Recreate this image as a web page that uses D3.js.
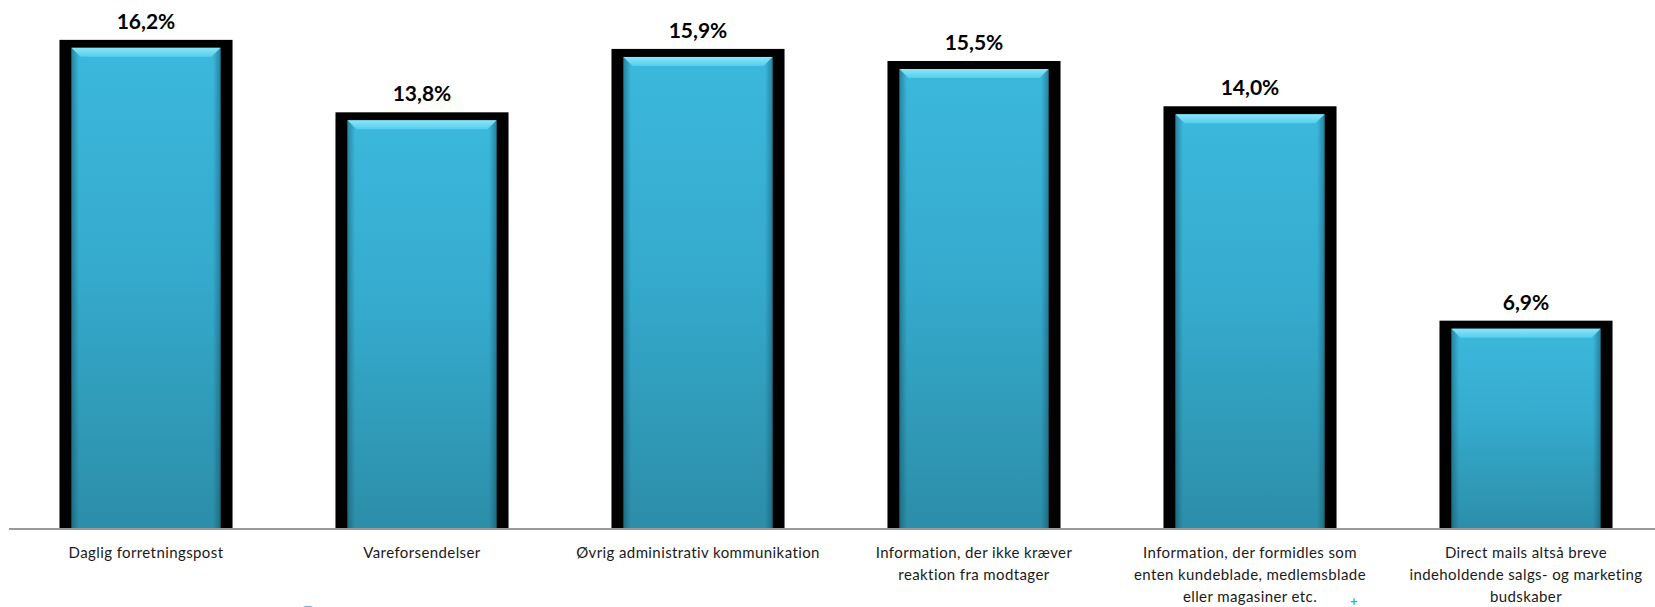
<!DOCTYPE html>
<html>
<head>
<meta charset="utf-8">
<script src="https://cdn.jsdelivr.net/npm/d3@7"></script>
<style>
  html, body { margin: 0; padding: 0; background: #fff; }
  svg { display: block; }
</style>
</head>
<body>
<svg id="chart" width="1655" height="607"></svg>
<script>
const categories = [
  "Daglig forretningspost",
  "Vareforsendelser",
  "Øvrig administrativ kommunikation",
  "Information, der ikke kræver\nreaktion fra modtager",
  "Information, der formidles som\nenten kundeblade, medlemsblade\neller magasiner etc.",
  "Direct mails altså breve\nindeholdende salgs- og marketing\nbudskaber"
];
const values = [16.2, 13.8, 15.9, 15.5, 14.0, 6.9];
const valueLabels = ["16,2%", "13,8%", "15,9%", "15,5%", "14,0%", "6,9%"];

const W = 1655, H = 607;
const baseY = 529;
const svg = d3.select("#chart");

const x = d3.scaleBand()
  .domain(categories)
  .range([8, 1664])
  .paddingInner(0.373)
  .paddingOuter(0.1865);

const y = d3.scaleLinear()
  .domain([0, 17.52])
  .range([baseY, 0]);

const defs = svg.append("defs");
const gv = defs.append("linearGradient").attr("id", "body").attr("x1", 0).attr("y1", 0).attr("x2", 0).attr("y2", 1);
gv.append("stop").attr("offset", "0%").attr("stop-color", "#3ec0e5");
gv.append("stop").attr("offset", "45%").attr("stop-color", "#38b2d6");
gv.append("stop").attr("offset", "100%").attr("stop-color", "#2e93ae");

const gh = defs.append("linearGradient").attr("id", "edge").attr("x1", 0).attr("y1", 0).attr("x2", 1).attr("y2", 0);
gh.append("stop").attr("offset", "0%").attr("stop-color", "#0a3a4a").attr("stop-opacity", 0.45);
gh.append("stop").attr("offset", "5%").attr("stop-color", "#0a3a4a").attr("stop-opacity", 0.06);
gh.append("stop").attr("offset", "95%").attr("stop-color", "#0a3a4a").attr("stop-opacity", 0.06);
gh.append("stop").attr("offset", "100%").attr("stop-color", "#0a3a4a").attr("stop-opacity", 0.45);

const gt = defs.append("linearGradient").attr("id", "bevel").attr("x1", 0).attr("y1", 0).attr("x2", 0).attr("y2", 1);
gt.append("stop").attr("offset", "0%").attr("stop-color", "#8ae6f8");
gt.append("stop").attr("offset", "100%").attr("stop-color", "#55cdee");

const bars = svg.append("g").selectAll("g.bar")
  .data(categories.map((c, i) => ({ c, v: values[i], lab: valueLabels[i] })))
  .join("g").attr("class", "bar");

const sideB = 12, topB = 8, bev = 9;

bars.append("rect")
  .attr("x", d => x(d.c))
  .attr("y", d => y(d.v))
  .attr("width", x.bandwidth())
  .attr("height", d => baseY - y(d.v))
  .attr("fill", "#000");

bars.append("rect")
  .attr("x", d => x(d.c) + sideB)
  .attr("y", d => y(d.v) + topB)
  .attr("width", x.bandwidth() - 2 * sideB)
  .attr("height", d => baseY - y(d.v) - topB)
  .attr("fill", "url(#body)");

bars.append("rect")
  .attr("x", d => x(d.c) + sideB)
  .attr("y", d => y(d.v) + topB)
  .attr("width", x.bandwidth() - 2 * sideB)
  .attr("height", d => baseY - y(d.v) - topB)
  .attr("fill", "url(#edge)");

bars.append("path")
  .attr("d", d => {
    const x0 = x(d.c) + sideB, x1 = x(d.c) + x.bandwidth() - sideB;
    const t = y(d.v) + topB;
    return `M${x0},${t} L${x1},${t} L${x1 - bev},${t + bev} L${x0 + bev},${t + bev} Z`;
  })
  .attr("fill", "url(#bevel)");

bars.append("text")
  .attr("x", d => x(d.c) + x.bandwidth() / 2)
  .attr("y", d => y(d.v) - 11)
  .attr("text-anchor", "middle")
  .attr("font-family", "Lato, 'Open Sans', sans-serif")
  .attr("font-weight", "bold")
  .attr("font-size", 21)
  .attr("fill", "#000")
  .text(d => d.lab);

// axis
const axis = d3.axisBottom(x).tickSize(0).tickFormat("");
const ax = svg.append("g").attr("transform", `translate(0,${baseY})`).call(axis);
ax.select(".domain").attr("stroke", "#999").attr("stroke-width", 2).attr("d", `M9,0H1660`);

const labs = svg.append("g").selectAll("text")
  .data(categories)
  .join("text")
  .attr("x", d => x(d) + x.bandwidth() / 2)
  .attr("y", 558)
  .attr("text-anchor", "middle")
  .attr("font-family", "Lato, 'Open Sans', sans-serif")
  .attr("font-size", 15)
  .attr("letter-spacing", 0.4)
  .attr("fill", "#1a1a1a");
labs.each(function(d) {
  const t = d3.select(this);
  d.split("\n").forEach((line, i) => {
    t.append("tspan").attr("x", x(d) + x.bandwidth() / 2).attr("dy", i === 0 ? 0 : 22).text(line);
  });
});

// small artifacts
svg.append("text").attr("x", 1354).attr("y", 605).attr("text-anchor", "middle")
  .attr("font-family", "DejaVu Sans").attr("font-weight", "bold").attr("font-size", 10).attr("fill", "#2fa8e0").text("+");
svg.append("ellipse").attr("cx", 308).attr("cy", 620).attr("rx", 13).attr("ry", 13)
  .attr("fill", "none").attr("stroke", "#6a9ccc").attr("stroke-width", 2);
</script>
</body>
</html>
